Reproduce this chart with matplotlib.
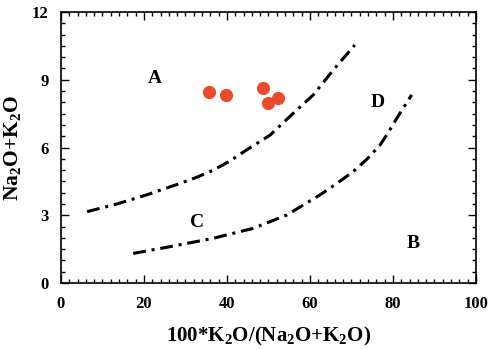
import matplotlib
matplotlib.use("Agg")
import matplotlib.pyplot as plt
from matplotlib.ticker import MultipleLocator

plt.rcParams['font.family'] = 'Liberation Serif'
plt.rcParams['font.weight'] = 'bold'
plt.rcParams['mathtext.fontset'] = 'custom'
plt.rcParams['mathtext.rm'] = 'Liberation Serif:bold'
plt.rcParams['mathtext.it'] = 'Liberation Serif:bold'
plt.rcParams['mathtext.bf'] = 'Liberation Serif:bold'

# sample points
k_ratio = [35.7, 39.8, 48.7, 49.9, 52.3]
alkali = [8.46, 8.33, 8.64, 7.97, 8.19]

# field boundaries
upper_x = [6.3, 13.5, 20.6, 28.7, 32.7, 36.7, 40.7, 44.7, 50.4, 56.0, 60.8, 65.6, 70.8]
upper_y = [3.16, 3.5, 3.9, 4.41, 4.68, 5.0, 5.4, 5.89, 6.55, 7.52, 8.33, 9.43, 10.54]
lower_x = [17.4, 26.3, 36.7, 46.3, 54.4, 62.4, 66.4, 70.4, 73.7, 76.9, 78.9, 80.9, 84.5]
lower_y = [1.31, 1.61, 1.98, 2.42, 3.01, 3.9, 4.4, 4.93, 5.48, 6.11, 6.68, 7.29, 8.33]

fields = ['A', 'B', 'C', 'D']
field_x = [22.7, 84.8, 32.8, 76.4]
field_y = [9.07, 1.77, 2.7, 8.0]

fig = plt.figure(figsize=(4.89, 3.49), dpi=100)
ax = fig.add_axes([0.1247, 0.1891, 0.8487, 0.7765])

dash = (0, (4.2, 1.9, 1.0, 1.9))
ax.plot(upper_x, upper_y, color='black', lw=2.2, linestyle=dash)
ax.plot(lower_x, lower_y, color='black', lw=2.2, linestyle=dash)

ax.plot(k_ratio, alkali, 'o', color='#eb4a2b', markersize=9.5, markeredgewidth=0)

for name, fx, fy in zip(fields, field_x, field_y):
    ax.text(fx, fy, name, fontsize=14, fontweight='bold', ha='center', va='center')

ax.set_xlim(0, 100)
ax.set_ylim(0, 12)
ax.xaxis.set_major_locator(MultipleLocator(20))
ax.xaxis.set_minor_locator(MultipleLocator(2))
ax.yaxis.set_major_locator(MultipleLocator(3))
ax.yaxis.set_minor_locator(MultipleLocator(0.5))
ax.tick_params(which='both', direction='in', top=True, right=True,
               labelsize=12, width=1)
ax.tick_params(which='major', length=6, pad=9)
ax.tick_params(which='minor', length=3)
for lab in ax.get_xticklabels() + ax.get_yticklabels():
    lab.set_fontweight('bold')
for sp in ax.spines.values():
    sp.set_linewidth(1.2)

ax.set_xlabel(r'100*K$_\mathregular{2}$O/(Na$_\mathregular{2}$O+K$_\mathregular{2}$O)',
              fontsize=15, fontweight='bold', labelpad=10)
ax.set_ylabel(r'Na$_\mathregular{2}$O+K$_\mathregular{2}$O', fontsize=15.5,
              fontweight='bold', labelpad=6)

fig.savefig('out.png', dpi=100)
